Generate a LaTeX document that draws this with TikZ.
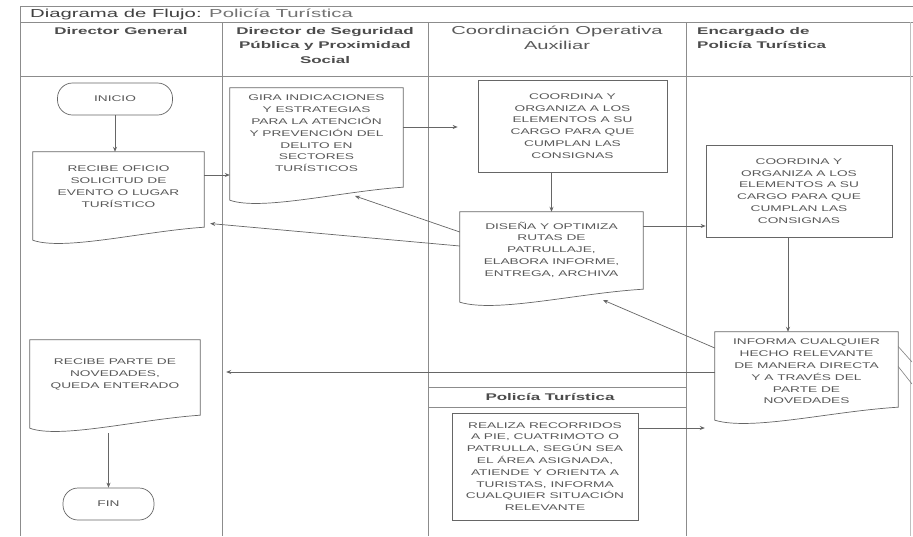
\documentclass[tikz,border=0pt]{standalone}
\usepackage{fontspec}
\setmainfont{Liberation Sans}
\newfontfamily\boxfont[FakeStretch=1.65]{Liberation Sans}
\newfontfamily\headfont[FakeStretch=1.75]{Liberation Sans}
\usetikzlibrary{calc,arrows.meta}
\newcommand\docoutline[1]{%
  \draw[boxline] ($(#1.south west)+(0,-5)$) -- (#1.north west) -- (#1.north east) -- ($(#1.south east)+(0,-18)$)
    .. controls ($(#1.south)+(25,-14)$) and ($(#1.south)+(-55,6)$) .. ($(#1.south west)+(0,-5)$) -- cycle;}
\begin{document}
\begin{tikzpicture}[x=1pt,y=-1pt,
  frame/.style={draw=black!45, line width=0.6pt},
  boxline/.style={draw=black!60, line width=0.7pt, fill=white},
  arr/.style={draw=black!60, line width=0.7pt, -{Stealth[length=5pt,width=4pt]}},
  conn/.style={draw=black!50, line width=0.6pt},
  boxtext/.style={font=\boxfont\fontsize{8.3}{11.8}\selectfont, text=black!65, align=center, inner sep=0pt},
  docbox/.style={draw=none, inner sep=0pt},
  procbox/.style={rectangle, draw=black!60, line width=0.7pt, fill=white, inner sep=0pt, align=center,
     font=\boxfont\fontsize{8.3}{11.8}\selectfont, text=black!65},
  term/.style={rectangle, rounded corners=15pt, draw=black!60, line width=0.7pt, fill=white, minimum height=32pt,
     font=\boxfont\fontsize{8.3}{10}\selectfont, text=black!65},
  headb/.style={font=\headfont\bfseries\fontsize{9.7}{14.5}\selectfont, text=black!70, align=center, inner sep=0pt},
  headr/.style={font=\headfont\fontsize{11.5}{14.5}\selectfont, text=black!65, align=center, inner sep=0pt},
  titlef/.style={font=\headfont\fontsize{11.6}{13}\selectfont, inner sep=0pt}]
\useasboundingbox (0,0) rectangle (913,536);
\fill[white] (0,0) rectangle (913,536);

% frame and lanes
\draw[frame] (20,6) -- (913,6);
\draw[frame] (20,22) -- (913,22);
\draw[frame, line width=1pt] (20,76) -- (913,76);
\draw[frame] (20,6) -- (20,536);
\draw[frame] (222,22) -- (222,536);
\draw[frame] (428,22) -- (428,536);
\draw[frame] (686,22) -- (686,536);
\draw[frame, draw=black!25] (910,22) -- (910,536);
\draw[frame] (428,387) -- (686,387);
\draw[frame] (428,407) -- (686,407);

% title and headers
\node[titlef, anchor=west] (title) at (30,14) {\textcolor{black!75}{Diagrama de Flujo:} \textcolor{black!55}{Policía Turística}};
\node[headb] (h1) at (121,31) {Director General};
\node[headb] (h2) at (325,45.5) {Director de Seguridad\\Pública y Proximidad\\Social};
\node[headr] (h3) at (557,38) {Coordinación Operativa\\Auxiliar};
\node[headb, align=left, anchor=west] (h4) at (697,38) {Encargado de\\Policía Turística};
\node[headb] (h5) at (550,397) {Policía Turística};

% nodes
\node[term, minimum width=115pt] (inicio) at (115,99) {INICIO};

\node[docbox, minimum width=171pt, minimum height=93pt] (b1) at (118.5,198.5) {};
\docoutline{b1}
\node[boxtext] (b1t) at ($(b1)+(0,-12)$) {RECIBE OFICIO\\SOLICITUD DE\\EVENTO O LUGAR\\TURÍSTICO};

\node[docbox, minimum width=173pt, minimum height=117pt] (b2) at (316.5,146.5) {};
\docoutline{b2}
\node[boxtext] (b2t) at ($(b2)+(0,-13)$) {GIRA INDICACIONES\\Y ESTRATEGIAS\\PARA LA ATENCIÓN\\Y PREVENCIÓN DEL\\DELITO EN\\SECTORES\\TURÍSTICOS};

\node[procbox, minimum width=189pt, minimum height=92pt] (b3) at (572.5,126) {COORDINA Y\\ORGANIZA A LOS\\ELEMENTOS A SU\\CARGO PARA QUE\\CUMPLAN LAS\\CONSIGNAS};

\node[docbox, minimum width=183pt, minimum height=95pt] (b4) at (551.5,259.5) {};
\docoutline{b4}
\node[boxtext] (b4t) at ($(b4)+(0,-10)$) {DISEÑA Y OPTIMIZA\\RUTAS DE\\PATRULLAJE,\\ELABORA INFORME,\\ENTREGA, ARCHIVA};

\node[procbox, minimum width=186pt, minimum height=92pt] (b5) at (799,191) {COORDINA Y\\ORGANIZA A LOS\\ELEMENTOS A SU\\CARGO PARA QUE\\CUMPLAN LAS\\CONSIGNAS};

\node[docbox, minimum width=183pt, minimum height=93pt] (b6) at (806.5,378.5) {};
\docoutline{b6}
\node[boxtext] (b6t) at ($(b6)+(0,-7)$) {INFORMA CUALQUIER\\HECHO RELEVANTE\\DE MANERA DIRECTA\\Y A TRAVÉS DEL\\PARTE DE\\NOVEDADES};

\node[procbox, minimum width=186pt, minimum height=107pt, line width=1pt] (b7) at (545,466.5) {REALIZA RECORRIDOS\\A PIE, CUATRIMOTO O\\PATRULLA, SEGÚN SEA\\EL ÁREA ASIGNADA,\\ATIENDE Y ORIENTA A\\TURISTAS, INFORMA\\CUALQUIER SITUACIÓN\\RELEVANTE};

\node[docbox, minimum width=170pt, minimum height=93pt] (b8) at (115,386.5) {};
\docoutline{b8}
\node[boxtext] (b8t) at ($(b8)+(0,-12)$) {RECIBE PARTE DE\\NOVEDADES,\\QUEDA ENTERADO};

\node[term, minimum width=91pt] (fin) at (108.5,504) {FIN};

% helper coordinates
\coordinate (yA) at (0,175);
\coordinate (yB) at (0,127);
\coordinate (yC) at (0,226);
\coordinate (xD) at (788,0);
\coordinate (yE) at (0,246);
\coordinate (yF) at (0,223);
\coordinate (yG) at (0,232);
\coordinate (b2in) at (355,196);
\coordinate (yH) at (0,348);
\coordinate (b4in) at (603,300);
\coordinate (yI) at (0,372);
\coordinate (yJ) at (0,428);
\coordinate (outA) at (912,362);
\coordinate (outB) at (912,384);

% connectors
\draw[arr] (inicio.south) -- (inicio.south |- b1.north);
\draw[arr] (b1.east |- yA) -- (b2.west |- yA);
\draw[arr, shorten >=20pt] (b2.east |- yB) -- (b3.west |- yB);
\draw[arr] (b3.south -| b4.north) -- (b4.north);
\draw[arr] (b4.east |- yC) -- (b5.west |- yC);
\draw[arr] (b5.south -| xD) -- (b6.north -| xD);
\draw[arr, shorten >=6pt] (b4.west |- yE) -- (b1.east |- yF);
\draw[arr] (b4.west |- yG) -- (b2in);
\draw[arr] (b6.west |- yH) -- (b4in);
\draw[arr, shorten >=26pt] (b6.west |- yI) -- (b8.east |- yI);
\draw[arr, shorten >=10pt] (b7.east |- yJ) -- (b6.west |- yJ);
\draw[arr] (b8.south -| fin.north) -- (fin.north);
\draw[conn] ($(b6.east)+(0,-32)$) -- (outA);
\draw[conn] ($(b6.east)+(0,-12)$) -- (outB);
\end{tikzpicture}
\end{document}
